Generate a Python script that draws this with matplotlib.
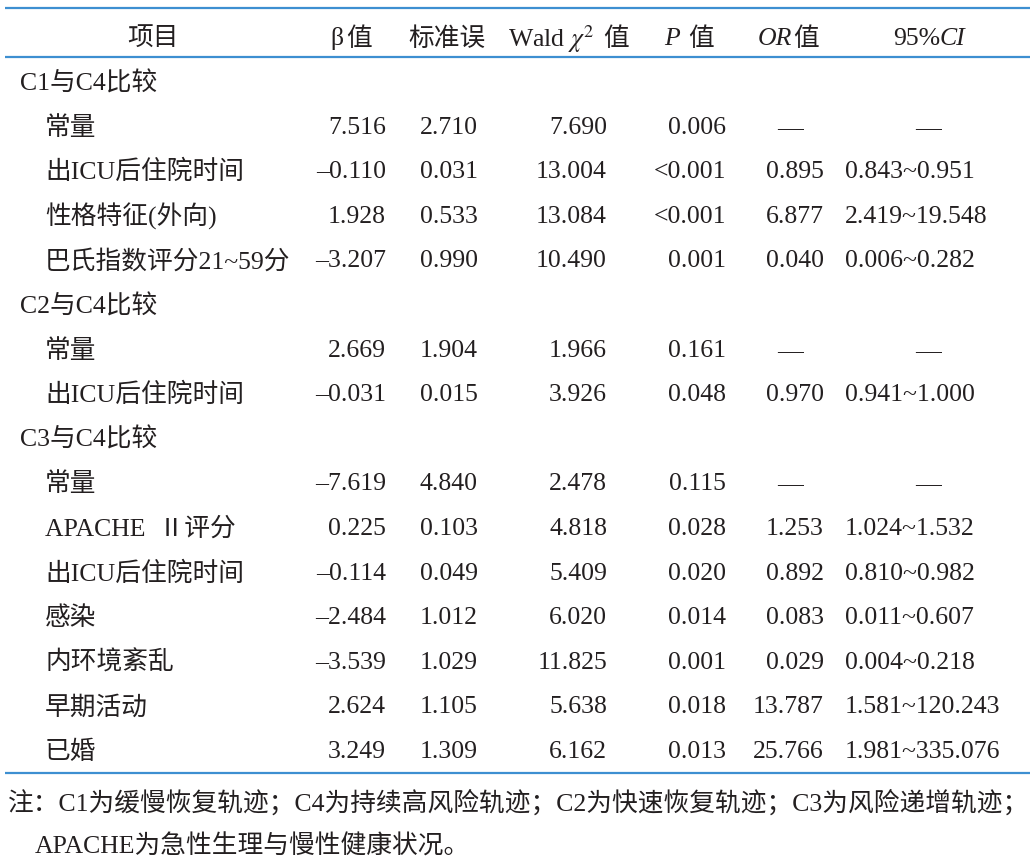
import matplotlib
matplotlib.use("Agg")
import matplotlib.pyplot as plt

plt.rcParams['font.family'] = ['Liberation Serif', 'Noto Sans CJK SC', 'DejaVu Sans']
plt.rcParams['mathtext.fontset'] = 'stix'

# ---------------- data ----------------
items = ["C1与C4比较", "常量", "出ICU后住院时间", "性格特征(外向)", "巴氏指数评分21~59分",
         "C2与C4比较", "常量", "出ICU后住院时间",
         "C3与C4比较", "常量", "APACHE  Ⅱ评分", "出ICU后住院时间", "感染", "内环境紊乱",
         "早期活动", "已婚"]
is_group = [True, False, False, False, False,
            True, False, False,
            True, False, False, False, False, False, False, False]
beta = ["", "7.516", "–0.110", "1.928", "–3.207",
        "", "2.669", "–0.031",
        "", "–7.619", "0.225", "–0.114", "–2.484", "–3.539", "2.624", "3.249"]
se = ["", "2.710", "0.031", "0.533", "0.990",
      "", "1.904", "0.015",
      "", "4.840", "0.103", "0.049", "1.012", "1.029", "1.105", "1.309"]
wald = ["", "7.690", "13.004", "13.084", "10.490",
        "", "1.966", "3.926",
        "", "2.478", "4.818", "5.409", "6.020", "11.825", "5.638", "6.162"]
pval = ["", "0.006", "<0.001", "<0.001", "0.001",
        "", "0.161", "0.048",
        "", "0.115", "0.028", "0.020", "0.014", "0.001", "0.018", "0.013"]
orv = ["", "—", "0.895", "6.877", "0.040",
       "", "—", "0.970",
       "", "—", "1.253", "0.892", "0.083", "0.029", "13.787", "25.766"]
ci = ["", "—", "0.843~0.951", "2.419~19.548", "0.006~0.282",
      "", "—", "0.941~1.000",
      "", "—", "1.024~1.532", "0.810~0.982", "0.011~0.607", "0.004~0.218",
      "1.581~120.243", "1.981~335.076"]
note1 = "注：C1为缓慢恢复轨迹；C4为持续高风险轨迹；C2为快速恢复轨迹；C3为风险递增轨迹；"
note2 = "APACHE为急性生理与慢性健康状况。"

# ---------------- figure ----------------
W, H = 1035, 864
fig = plt.figure(figsize=(W / 100, H / 100), dpi=100)
ax = fig.add_axes([0, 0, 1, 1])
ax.set_xlim(0, W)
ax.set_ylim(H, 0)
ax.axis('off')

TXT = '#231f20'
LINE = '#3d8fd1'
FS = 18.5
DY = 2  # vertical nudge

# rules
for y in (8, 57, 773):
    ax.plot([5, 1030], [y, y], color=LINE, lw=1.6, solid_capstyle='butt')

# header
hy = 37 + DY
kw = dict(color=TXT, fontsize=FS, va='center')
ax.text(153, hy, "项目", ha='center', **kw)
ax.text(344, hy, "β", ha='right', **kw)
ax.text(346, hy, "值", ha='left', **kw)
ax.text(447, hy, "标准误", ha='center', **kw)
ax.text(508, hy, r"Wald $\chi^2$", ha='left', **kw)
ax.text(603, hy, "值", ha='left', **kw)
ax.text(680, hy, "P", ha='right', style='italic', **kw)
ax.text(688, hy, "值", ha='left', **kw)
ax.text(792, hy, "OR", ha='right', style='italic', **kw)
ax.text(793, hy, "值", ha='left', **kw)
ax.text(940, hy, "95%", ha='right', **kw)
ax.text(940, hy, "CI", ha='left', style='italic', **kw)

# body
y0, dy = 81 + DY, 44.6
for i, name in enumerate(items):
    y = y0 + i * dy
    ax.text(20 if is_group[i] else 45, y, name, ha='left', **kw)
    if is_group[i]:
        continue
    ax.text(386, y, beta[i], ha='right', **kw)
    ax.text(478, y, se[i], ha='right', **kw)
    ax.text(607, y, wald[i], ha='right', **kw)
    ax.text(726, y, pval[i], ha='right', **kw)
    if orv[i] == "—":
        ax.text(790, y, orv[i], ha='center', **kw)
    else:
        ax.text(824, y, orv[i], ha='right', **kw)
    if ci[i] == "—":
        ax.text(928, y, ci[i], ha='center', **kw)
    else:
        ax.text(845, y, ci[i], ha='left', **kw)

# notes
ax.text(8, 800 + DY, note1, ha='left', **kw)
ax.text(35, 845 + DY, note2, ha='left', **kw)

fig.savefig("out.png", dpi=100, facecolor='white')
